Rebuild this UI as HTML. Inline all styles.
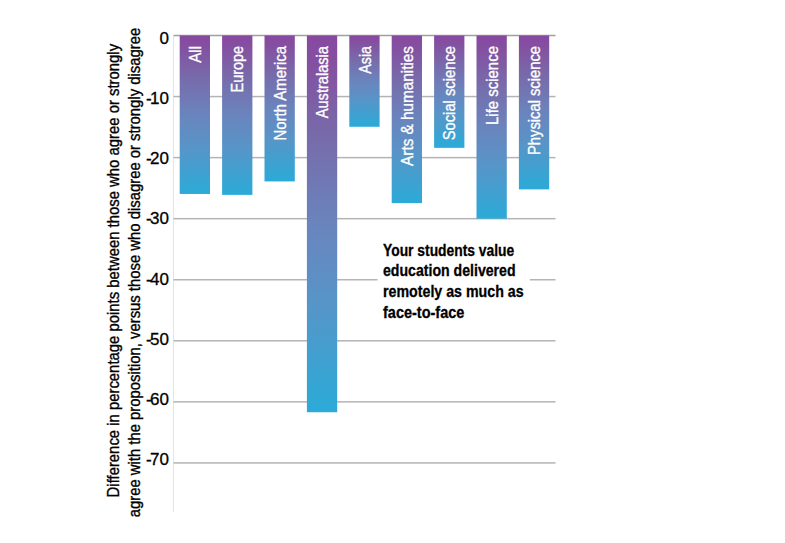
<!DOCTYPE html>
<html><head><meta charset="utf-8"><style>
html,body{margin:0;padding:0;background:#fff;}
body{width:785px;height:543px;overflow:hidden;}
svg{display:block;}
text{font-family:"Liberation Sans",sans-serif;}
</style></head><body>
<svg width="785" height="543" viewBox="0 0 785 543">
<defs>
<linearGradient id="g" x1="0" y1="0" x2="0" y2="1">
<stop offset="0" stop-color="#8848a0"/>
<stop offset="0.073" stop-color="#8450a0"/>
<stop offset="0.259" stop-color="#786aaa"/>
<stop offset="0.498" stop-color="#6a84bd"/>
<stop offset="0.71" stop-color="#5795c8"/>
<stop offset="0.963" stop-color="#30a8d6"/>
<stop offset="1" stop-color="#2caad8"/>
</linearGradient>
</defs>
<rect width="785" height="543" fill="#fff"/>

<rect x="173" y="36" width="1" height="476" fill="#e4e4e4"/>
<rect x="173.5" y="34.75" width="382" height="1.5" fill="#a0a0a0"/>
<text x="169" y="43.80" font-size="17" text-anchor="end" fill="#000" stroke="#000" stroke-width="0.3">0</text>
<rect x="173.5" y="95.81" width="382" height="1.5" fill="#b4b4b4"/>
<text x="169" y="104.03" font-size="17" text-anchor="end" fill="#000" stroke="#000" stroke-width="0.3">-<tspan dx="-1.5">10</tspan></text>
<rect x="173.5" y="156.87" width="382" height="1.5" fill="#b4b4b4"/>
<text x="169" y="164.26" font-size="17" text-anchor="end" fill="#000" stroke="#000" stroke-width="0.3">-<tspan dx="-1.5">20</tspan></text>
<rect x="173.5" y="217.93" width="382" height="1.5" fill="#b4b4b4"/>
<text x="169" y="224.49" font-size="17" text-anchor="end" fill="#000" stroke="#000" stroke-width="0.3">-<tspan dx="-1.5">30</tspan></text>
<rect x="173.5" y="278.99" width="382" height="1.5" fill="#b4b4b4"/>
<text x="169" y="284.72" font-size="17" text-anchor="end" fill="#000" stroke="#000" stroke-width="0.3">-<tspan dx="-1.5">40</tspan></text>
<rect x="173.5" y="340.05" width="382" height="1.5" fill="#b4b4b4"/>
<text x="169" y="344.95" font-size="17" text-anchor="end" fill="#000" stroke="#000" stroke-width="0.3">-<tspan dx="-1.5">50</tspan></text>
<rect x="173.5" y="401.11" width="382" height="1.5" fill="#b4b4b4"/>
<text x="169" y="405.18" font-size="17" text-anchor="end" fill="#000" stroke="#000" stroke-width="0.3">-<tspan dx="-1.5">60</tspan></text>
<rect x="173.5" y="462.17" width="382" height="1.5" fill="#b4b4b4"/>
<text x="169" y="465.41" font-size="17" text-anchor="end" fill="#000" stroke="#000" stroke-width="0.3">-<tspan dx="-1.5">70</tspan></text>
<rect x="179.70" y="35.50" width="30.3" height="158.45" fill="url(#g)"/>
<text transform="translate(201.05,46) rotate(-90)" font-size="17" text-anchor="end" fill="#fff" stroke="#fff" stroke-width="0.35" textLength="16.8" lengthAdjust="spacingAndGlyphs">All</text>
<rect x="222.10" y="35.50" width="30.3" height="159.37" fill="url(#g)"/>
<text transform="translate(243.45,46) rotate(-90)" font-size="17" text-anchor="end" fill="#fff" stroke="#fff" stroke-width="0.35" textLength="46.4" lengthAdjust="spacingAndGlyphs">Europe</text>
<rect x="264.50" y="35.50" width="30.3" height="145.93" fill="url(#g)"/>
<text transform="translate(285.85,46) rotate(-90)" font-size="17" text-anchor="end" fill="#fff" stroke="#fff" stroke-width="0.35" textLength="94.4" lengthAdjust="spacingAndGlyphs">North America</text>
<rect x="306.90" y="35.50" width="30.3" height="376.74" fill="url(#g)"/>
<text transform="translate(328.25,46) rotate(-90)" font-size="17" text-anchor="end" fill="#fff" stroke="#fff" stroke-width="0.35" textLength="72.3" lengthAdjust="spacingAndGlyphs">Australasia</text>
<rect x="349.30" y="35.50" width="30.3" height="91.28" fill="url(#g)"/>
<text transform="translate(370.65,46) rotate(-90)" font-size="17" text-anchor="end" fill="#fff" stroke="#fff" stroke-width="0.35" textLength="27.7" lengthAdjust="spacingAndGlyphs">Asia</text>
<rect x="391.70" y="35.50" width="30.3" height="167.61" fill="url(#g)"/>
<text transform="translate(413.05,46) rotate(-90)" font-size="17" text-anchor="end" fill="#fff" stroke="#fff" stroke-width="0.35" textLength="119.9" lengthAdjust="spacingAndGlyphs">Arts &amp; humanities</text>
<rect x="434.10" y="35.50" width="30.3" height="112.35" fill="url(#g)"/>
<text transform="translate(455.45,46) rotate(-90)" font-size="17" text-anchor="end" fill="#fff" stroke="#fff" stroke-width="0.35" textLength="94.3" lengthAdjust="spacingAndGlyphs">Social science</text>
<rect x="476.50" y="35.50" width="30.3" height="183.18" fill="url(#g)"/>
<text transform="translate(497.85,46) rotate(-90)" font-size="17" text-anchor="end" fill="#fff" stroke="#fff" stroke-width="0.35" textLength="79.0" lengthAdjust="spacingAndGlyphs">Life science</text>
<rect x="518.90" y="35.50" width="30.3" height="153.87" fill="url(#g)"/>
<text transform="translate(540.25,46) rotate(-90)" font-size="17" text-anchor="end" fill="#fff" stroke="#fff" stroke-width="0.35" textLength="109.0" lengthAdjust="spacingAndGlyphs">Physical science</text>
<rect x="377.5" y="238" width="152.3" height="86" fill="#fff"/>
<text x="383" y="255.50" font-size="16.5" font-weight="bold" fill="#000" stroke="#000" stroke-width="0.3" textLength="131.2" lengthAdjust="spacingAndGlyphs">Your students value</text>
<text x="383" y="276.30" font-size="16.5" font-weight="bold" fill="#000" stroke="#000" stroke-width="0.3" textLength="132.6" lengthAdjust="spacingAndGlyphs">education delivered</text>
<text x="383" y="297.10" font-size="16.5" font-weight="bold" fill="#000" stroke="#000" stroke-width="0.3" textLength="140.6" lengthAdjust="spacingAndGlyphs">remotely as much as</text>
<text x="383" y="317.90" font-size="16.5" font-weight="bold" fill="#000" stroke="#000" stroke-width="0.3" textLength="81.4" lengthAdjust="spacingAndGlyphs">face-to-face</text>
<text transform="translate(119,497.4) rotate(-90)" font-size="17" fill="#000" stroke="#000" stroke-width="0.35" textLength="453.5" lengthAdjust="spacingAndGlyphs">Difference in percentage points between those who agree or strongly</text>
<text transform="translate(139.5,517.3) rotate(-90)" font-size="17" fill="#000" stroke="#000" stroke-width="0.35" textLength="489.5" lengthAdjust="spacingAndGlyphs">agree with the proposition, versus those who disagree or strongly disagree</text>
</svg></body></html>
